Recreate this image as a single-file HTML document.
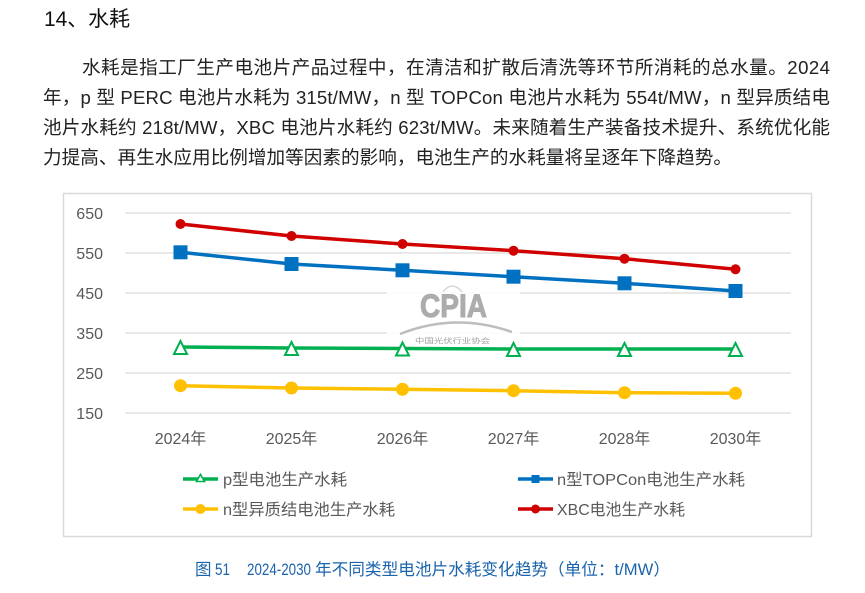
<!DOCTYPE html>
<html>
<head>
<meta charset="utf-8">
<style>
html,body{margin:0;padding:0;background:#fff;}
svg{display:block;}
.cj{font-family:"Liberation Sans","Noto Sans CJK SC",sans-serif;}
</style>
</head>
<body>
<svg width="865" height="593" viewBox="0 0 865 593" xmlns="http://www.w3.org/2000/svg" class="cj">
  <rect x="0" y="0" width="865" height="593" fill="#fff"/>
  <!-- Title -->
  <text x="44" y="26" font-size="21" fill="#111" textLength="86" lengthAdjust="spacingAndGlyphs">14、水耗</text>
  <!-- Paragraph -->
  <g font-size="18.6" fill="#222">
    <text x="82" y="74" textLength="748" lengthAdjust="spacing">水耗是指工厂生产电池片产品过程中，在清洁和扩散后清洗等环节所消耗的总水量。2024</text>
    <text x="43" y="104" textLength="787" lengthAdjust="spacing">年，p 型 PERC 电池片水耗为 315t/MW，n 型 TOPCon 电池片水耗为 554t/MW，n 型异质结电</text>
    <text x="43" y="134" textLength="787" lengthAdjust="spacing">池片水耗约 218t/MW，XBC 电池片水耗约 623t/MW。未来随着生产装备技术提升、系统优化能</text>
    <text x="43" y="164" textLength="689" lengthAdjust="spacing">力提高、再生水应用比例增加等因素的影响，电池生产的水耗量将呈逐年下降趋势。</text>
  </g>

  <!-- Chart frame -->
  <rect x="63.5" y="193.5" width="748" height="343" fill="#fff" stroke="#d9d9d9" stroke-width="1.5"/>

  <!-- Gridlines -->
  <g stroke="#d9d9d9" stroke-width="1.3">
    <line x1="125" y1="213" x2="791" y2="213"/>
    <line x1="125" y1="253" x2="791" y2="253"/>
    <line x1="125" y1="293" x2="791" y2="293"/>
    <line x1="125" y1="333" x2="791" y2="333"/>
    <line x1="125" y1="373" x2="791" y2="373"/>
    <line x1="125" y1="413" x2="791" y2="413"/>
  </g>

  <!-- Y labels -->
  <g font-size="16" fill="#595959" text-anchor="end">
    <text x="103" y="219">650</text>
    <text x="103" y="259">550</text>
    <text x="103" y="299">450</text>
    <text x="103" y="339">350</text>
    <text x="103" y="379">250</text>
    <text x="103" y="419">150</text>
  </g>

  <!-- X labels -->
  <g font-size="16" fill="#595959" text-anchor="middle">
    <text x="180.5" y="444">2024年</text>
    <text x="291.5" y="444">2025年</text>
    <text x="402.5" y="444">2026年</text>
    <text x="513.5" y="444">2027年</text>
    <text x="624.5" y="444">2028年</text>
    <text x="735.5" y="444">2030年</text>
  </g>

  <!-- Watermark -->
  <g>
    <rect x="387" y="276" width="133" height="80" fill="#fff" opacity="0.85"/>
    <text x="420" y="317" font-size="32" font-weight="bold" fill="#acacac" stroke="#acacac" stroke-width="1" textLength="67" lengthAdjust="spacingAndGlyphs">CPIA</text>
    <path d="M400 334 Q455 312 512 332" fill="none" stroke="#bdbdbd" stroke-width="2.5"/>
    <text x="415" y="343" font-size="7" fill="#a0a0a0" textLength="75" lengthAdjust="spacingAndGlyphs">中国光伏行业协会</text>
    <path d="M443 292 Q452 280 462 292" fill="none" stroke="#d8d8d8" stroke-width="1.5"/>
  </g>

  <!-- Series: red XBC -->
  <polyline points="180.5,224 291.5,236 402.5,244 513.5,250.7 624.5,258.7 735.5,269.3" fill="none" stroke="#d00000" stroke-width="3.5" stroke-linejoin="round"/>
  <g fill="#d00000">
    <circle cx="180.5" cy="224" r="5"/>
    <circle cx="291.5" cy="236" r="5"/>
    <circle cx="402.5" cy="244" r="5"/>
    <circle cx="513.5" cy="250.7" r="5"/>
    <circle cx="624.5" cy="258.7" r="5"/>
    <circle cx="735.5" cy="269.3" r="5"/>
  </g>

  <!-- Series: blue TOPCon -->
  <polyline points="180.5,252.3 291.5,264 402.5,270.3 513.5,276.7 624.5,283.3 735.5,291" fill="none" stroke="#0070c0" stroke-width="3.5" stroke-linejoin="round"/>
  <g fill="#0070c0">
    <rect x="173.5" y="245.3" width="14" height="14"/>
    <rect x="284.5" y="257" width="14" height="14"/>
    <rect x="395.5" y="263.3" width="14" height="14"/>
    <rect x="506.5" y="269.7" width="14" height="14"/>
    <rect x="617.5" y="276.3" width="14" height="14"/>
    <rect x="728.5" y="284" width="14" height="14"/>
  </g>

  <!-- Series: green p-type -->
  <polyline points="180.5,347 291.5,348 402.5,348.5 513.5,349 624.5,349 735.5,349" fill="none" stroke="#00b050" stroke-width="3.5" stroke-linejoin="round"/>
  <g fill="#fff" stroke="#00b050" stroke-width="2">
    <polygon points="180.5,341 187,354 174,354"/>
    <polygon points="291.5,342 298,355 285,355"/>
    <polygon points="402.5,342.5 409,355.5 396,355.5"/>
    <polygon points="513.5,343 520,356 507,356"/>
    <polygon points="624.5,343 631,356 618,356"/>
    <polygon points="735.5,343 742,356 729,356"/>
  </g>

  <!-- Series: yellow heterojunction -->
  <polyline points="180.5,385.7 291.5,388 402.5,389.3 513.5,390.7 624.5,392.7 735.5,393.3" fill="none" stroke="#ffc000" stroke-width="3.5" stroke-linejoin="round"/>
  <g fill="#ffc000">
    <circle cx="180.5" cy="385.7" r="6.5"/>
    <circle cx="291.5" cy="388" r="6.5"/>
    <circle cx="402.5" cy="389.3" r="6.5"/>
    <circle cx="513.5" cy="390.7" r="6.5"/>
    <circle cx="624.5" cy="392.7" r="6.5"/>
    <circle cx="735.5" cy="393.3" r="6.5"/>
  </g>

  <!-- Legend -->
  <g>
    <line x1="183" y1="479" x2="218" y2="479" stroke="#00b050" stroke-width="3.5"/>
    <polygon points="200.5,474.5 204.5,481.5 196.5,481.5" fill="#fff" stroke="#00b050" stroke-width="1.6"/>
    <text x="223" y="485" font-size="16" fill="#595959" textLength="124" lengthAdjust="spacingAndGlyphs">p型电池生产水耗</text>

    <line x1="183" y1="509" x2="218" y2="509" stroke="#ffc000" stroke-width="3.5"/>
    <circle cx="200.5" cy="509" r="5" fill="#ffc000"/>
    <text x="223" y="515" font-size="16" fill="#595959" textLength="172" lengthAdjust="spacingAndGlyphs">n型异质结电池生产水耗</text>

    <line x1="518" y1="479" x2="553" y2="479" stroke="#0070c0" stroke-width="3.5"/>
    <rect x="531.5" y="475" width="8" height="8" fill="#0070c0"/>
    <text x="557" y="485" font-size="16" fill="#595959" textLength="188" lengthAdjust="spacingAndGlyphs">n型TOPCon电池生产水耗</text>

    <line x1="518" y1="509" x2="553" y2="509" stroke="#d00000" stroke-width="3.5"/>
    <circle cx="535.5" cy="509" r="4.5" fill="#d00000"/>
    <text x="557" y="515" font-size="16" fill="#595959" textLength="128" lengthAdjust="spacingAndGlyphs">XBC电池生产水耗</text>
  </g>

  <!-- Caption -->
  <g fill="#1a63ad" font-size="16.5">
    <text x="195" y="575">图</text>
    <text x="215" y="575" textLength="15" lengthAdjust="spacingAndGlyphs">51</text>
    <text x="247" y="575" textLength="64" lengthAdjust="spacingAndGlyphs">2024-2030</text>
    <text x="315" y="575" textLength="355" lengthAdjust="spacingAndGlyphs">年不同类型电池片水耗变化趋势（单位：t/MW）</text>
  </g>
</svg>
</body>
</html>
